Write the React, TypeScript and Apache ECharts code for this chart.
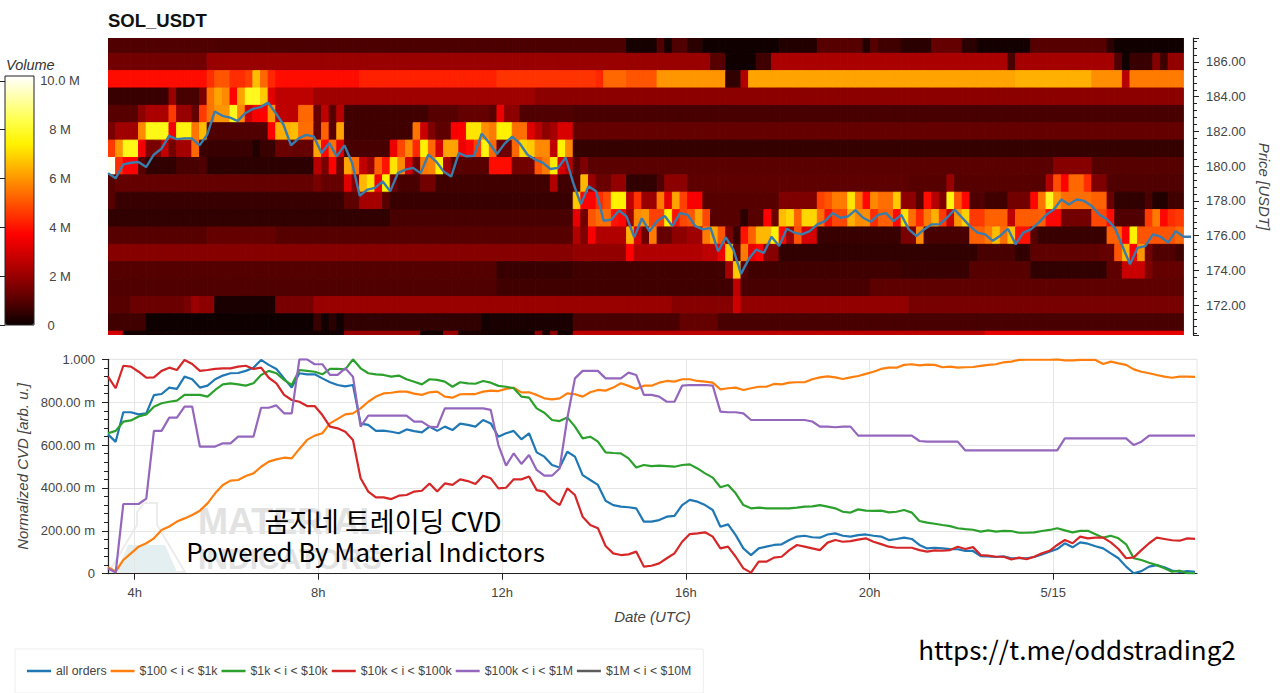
import React, { useEffect, useRef } from "react";
import * as echarts from "echarts";

type Run = [number, number];

const titleText = "SOL_USDT";
const firstHour = 3.42;
const lastHour = 27.13;
const cellHours = 1 / 6;
const hourTicks = [4, 8, 12, 16, 20, 24];
const columnCount = 141;

const row187: Run[] = [[14,0.9],[68,0.85],[72,0.15],[73,0.9],[74,0.15],[76,0.9],[78,0.4],[88,0.08],[93,0.3],[99,1.0],[100,0.3],[101,1.0],[104,0.7],[108,0.4],[112,1.2],[114,0.4],[121,0.12],[131,1.0],[132,0.4],[141,0.08]];
const row186: Run[] = [[13,1.4],[79,2.0],[81,1.0],[85,0.08],[87,0.7],[118,2.3],[119,0.8],[132,2.2],[133,0.9],[134,0.08],[137,0.6],[138,1.7],[139,0.7],[141,1.9]];
const row185: Run[] = [[13,3.9],[14,4.4],[16,5.0],[18,4.4],[19,4.7],[20,6.6],[21,5.3],[22,4.3],[33,3.9],[51,4.2],[64,4.5],[65,4.3],[68,5.3],[72,5.0],[81,6.0],[83,0.5],[84,2.4],[119,6.2],[129,6.4],[133,5.9],[134,2.5],[141,5.6]];
const row184: Run[] = [[8,0.6],[9,2.0],[12,0.8],[13,1.5],[14,5.5],[15,6.2],[16,5.8],[17,3.7],[18,6.2],[20,7.8],[21,6.8],[22,3.2],[27,2.6],[56,2.1],[141,1.8]];
const row183: Run[] = [[4,1.0],[5,1.8],[8,2.3],[9,4.6],[11,2.0],[12,1.2],[13,4.6],[14,5.5],[16,6.0],[17,7.8],[18,5.8],[19,2.8],[20,3.6],[21,3.7],[22,6.0],[25,2.6],[27,5.3],[28,1.2],[29,2.6],[30,1.0],[31,2.5],[42,0.7],[46,1.0],[50,1.2],[51,1.0],[52,3.4],[54,1.8],[61,0.9],[141,0.8]];
const row182: Run[] = [[1,1.5],[4,2.1],[5,5.8],[8,7.7],[9,3.5],[11,7.6],[12,5.5],[13,6.6],[21,0.9],[22,3.7],[24,6.4],[25,6.6],[27,5.4],[28,1.2],[29,5.2],[30,1.0],[31,6.2],[40,0.7],[41,5.5],[42,2.8],[43,1.6],[45,1.1],[46,3.6],[47,3.7],[49,7.2],[50,5.9],[51,5.6],[53,7.4],[55,5.4],[56,3.2],[57,2.5],[58,1.8],[59,2.2],[61,3.1],[141,1.2]];
const row181: Run[] = [[1,4.6],[2,6.0],[4,7.7],[5,3.5],[7,1.5],[8,2.7],[9,1.4],[11,2.2],[12,5.3],[19,0.6],[20,0.3],[22,0.6],[24,1.3],[27,1.2],[28,6.2],[29,3.8],[30,5.4],[31,3.2],[37,0.8],[38,3.4],[39,4.8],[40,5.8],[41,4.3],[42,7.4],[43,5.3],[44,3.0],[46,6.2],[47,3.4],[48,3.8],[49,4.7],[50,7.6],[51,5.3],[53,1.3],[54,5.3],[55,7.0],[56,6.8],[58,5.8],[59,2.6],[60,7.4],[61,5.8],[141,0.55]];
const row180: Run[] = [[1,10],[2,4.4],[4,3.7],[5,1.0],[9,0.5],[12,0.8],[13,0.9],[27,0.45],[28,2.5],[29,1.5],[30,3.7],[31,1.3],[32,6.2],[33,5.4],[34,2.7],[35,2.0],[36,5.2],[37,4.0],[38,7.2],[39,5.8],[40,3.0],[41,1.3],[42,5.6],[43,5.7],[44,7.4],[45,2.2],[50,1.0],[53,3.9],[56,1.4],[57,5.0],[58,5.6],[59,7.3],[60,3.0],[61,2.4],[62,1.0],[63,1.6],[124,1.05],[129,1.7],[141,1.0]];
const row179: Run[] = [[1,1.0],[27,1.2],[28,1.5],[31,1.2],[32,3.2],[33,1.7],[34,6.5],[35,7.2],[36,3.5],[37,7.4],[38,1.3],[41,0.8],[43,1.4],[58,0.7],[59,2.4],[61,0.7],[62,1.0],[63,6.5],[64,2.0],[66,1.3],[68,1.9],[72,0.5],[73,0.9],[76,1.8],[105,1.1],[110,1.0],[111,2.0],[123,1.0],[124,2.4],[125,4.9],[126,3.7],[128,5.3],[129,4.4],[131,1.6],[141,0.9]];
const row178: Run[] = [[1,1.0],[31,0.6],[33,1.1],[36,2.2],[37,1.0],[61,0.6],[62,6.8],[64,3.7],[65,4.4],[66,4.9],[68,7.4],[69,2.6],[70,4.5],[72,2.0],[73,5.6],[74,3.3],[75,6.2],[76,4.7],[78,3.6],[88,1.0],[93,1.6],[94,4.7],[95,5.0],[97,5.6],[98,7.2],[99,5.4],[100,3.8],[101,5.8],[103,5.4],[104,6.8],[106,1.8],[107,1.0],[108,3.9],[109,2.5],[110,1.6],[111,7.6],[112,5.0],[113,3.8],[115,0.9],[118,0.7],[121,1.4],[122,3.8],[123,5.5],[124,7.8],[125,6.0],[129,5.4],[131,5.2],[132,1.3],[136,0.5],[137,0.8],[139,0.3],[141,0.7]];
const row177: Run[] = [[37,0.5],[61,0.8],[62,3.3],[63,1.4],[64,5.0],[66,5.4],[67,4.0],[68,3.8],[69,2.0],[70,5.8],[71,6.0],[73,4.7],[74,7.4],[75,4.0],[76,4.8],[77,5.0],[78,6.2],[79,4.8],[83,1.0],[84,0.4],[86,1.0],[87,3.7],[88,1.3],[89,6.6],[90,7.0],[91,5.2],[93,7.0],[94,5.4],[95,4.0],[97,4.8],[98,6.4],[99,5.8],[100,5.9],[101,4.4],[103,5.2],[104,3.8],[105,7.2],[106,5.4],[107,4.3],[108,5.6],[109,6.4],[110,4.6],[111,2.8],[112,6.0],[113,6.9],[115,4.6],[118,5.2],[119,2.6],[122,5.1],[123,5.2],[125,3.8],[129,1.4],[131,4.8],[132,3.9],[136,0.9],[137,4.6],[138,5.6],[139,3.8],[140,4.4],[141,4.6]];
const row176: Run[] = [[13,1.0],[22,1.2],[61,1.0],[62,2.4],[63,1.6],[64,3.6],[68,2.4],[69,6.4],[70,3.0],[71,1.3],[72,5.6],[74,1.2],[76,1.8],[78,2.1],[79,5.6],[80,6.3],[81,5.0],[82,1.5],[83,0.6],[84,4.0],[85,5.2],[87,6.5],[88,7.5],[89,3.8],[90,2.0],[91,5.0],[93,3.0],[104,0.6],[106,1.5],[107,5.8],[113,0.8],[115,5.2],[116,5.6],[117,6.6],[118,5.4],[119,6.7],[121,4.0],[122,1.0],[131,0.6],[133,5.2],[134,3.7],[135,7.4],[136,5.0],[140,5.0],[141,5.3]];
const row175: Run[] = [[61,1.7],[68,1.9],[69,3.7],[78,2.4],[80,2.6],[81,3.4],[82,6.8],[83,1.2],[84,5.6],[85,3.3],[86,3.7],[88,1.7],[114,0.5],[119,0.8],[121,0.5],[130,1.1],[132,1.2],[133,5.0],[134,6.5],[135,3.6],[136,6.0],[137,1.4],[140,0.9],[141,0.7]];
const row174: Run[] = [[51,0.95],[61,0.6],[81,0.7],[82,2.2],[83,6.8],[84,1.0],[104,0.7],[113,0.6],[121,1.0],[131,0.5],[133,1.1],[136,2.8],[137,1.6],[141,1.2]];
const row173: Run[] = [[51,0.9],[82,0.7],[83,2.6],[100,0.8],[141,1.1]];
const row172: Run[] = [[3,1.0],[10,1.3],[11,1.5],[12,2.0],[14,1.8],[22,0.2],[27,1.5],[74,2.0],[82,1.7],[83,2.9],[105,1.9],[141,1.5]];
const row171: Run[] = [[5,0.7],[27,0.05],[28,0.6],[29,0.1],[30,0.4],[31,0.1],[49,0.5],[50,0.1],[61,0.2],[75,0.8],[80,1.2],[141,0.8]];
const row170: Run[] = [[2,3.0],[31,0.1],[41,2.0],[44,0.1],[46,2.0],[50,0.2],[56,0.1],[57,1.8],[58,0.2],[59,1.8],[61,0.1],[115,2.6],[141,3.3]];

const priceRows: [number, Run[]][] = [[187,row187],[186,row186],[185,row185],[184,row184],[183,row183],[182,row182],[181,row181],[180,row180],[179,row179],[178,row178],[177,row177],[176,row176],[175,row175],[174,row174],[173,row173],[172,row172],[171,row171],[170,row170]];

const priceLine = [179.6,179.3,180.1,180.2,180.24,179.95,180.66,181.0,181.75,181.56,181.6,181.6,181.2,181.8,183.15,182.9,182.8,182.6,183.05,183.3,183.4,183.66,183.05,182.4,181.2,181.6,181.8,181.7,180.76,181.33,180.57,181.2,180.2,178.3,178.65,178.75,179.13,178.55,179.6,179.8,179.9,179.6,180.66,180.28,179.7,179.4,180.76,180.57,180.6,181.87,181.33,180.7,181.3,181.7,181.3,180.66,180.38,180.2,179.84,179.9,180.5,179.04,177.8,178.85,178.55,176.85,176.93,177.45,177.1,175.9,177.0,176.25,176.85,177.13,176.55,177.3,177.2,176.55,176.36,176.45,175.1,175.9,175.2,173.8,174.65,175.2,175.0,175.94,175.4,176.4,176.17,176.07,176.26,176.65,176.84,177.3,177.03,177.1,177.47,177.03,176.8,177.2,177.3,176.84,177.2,176.36,175.98,176.36,176.65,176.65,177.03,177.5,177.03,176.55,176.17,176.07,175.7,176.0,176.4,175.5,176.17,176.36,176.74,177.2,177.5,178.08,177.8,178.08,178.0,177.7,177.2,176.93,176.45,175.4,174.35,175.3,175.4,176.07,175.94,175.6,176.26,175.94,175.94];

const allOrders = [0.65,0.615,0.753,0.753,0.743,0.748,0.833,0.838,0.868,0.862,0.919,0.907,0.868,0.877,0.907,0.924,0.935,0.936,0.946,0.961,0.997,0.974,0.955,0.911,0.868,0.935,0.93,0.93,0.911,0.893,0.88,0.874,0.88,0.7,0.694,0.666,0.667,0.662,0.655,0.673,0.665,0.659,0.686,0.666,0.686,0.67,0.7,0.694,0.686,0.717,0.701,0.639,0.655,0.666,0.627,0.655,0.566,0.546,0.507,0.495,0.569,0.546,0.46,0.437,0.414,0.34,0.32,0.313,0.31,0.305,0.243,0.243,0.25,0.266,0.27,0.32,0.344,0.336,0.32,0.297,0.219,0.23,0.18,0.118,0.087,0.118,0.126,0.134,0.137,0.157,0.173,0.177,0.17,0.168,0.183,0.188,0.177,0.173,0.18,0.183,0.177,0.173,0.157,0.162,0.168,0.162,0.134,0.118,0.121,0.118,0.115,0.114,0.106,0.106,0.082,0.081,0.078,0.081,0.072,0.072,0.072,0.078,0.09,0.103,0.115,0.142,0.123,0.146,0.14,0.128,0.118,0.095,0.072,0.033,0.002,0.012,0.033,0.04,0.03,0.015,0.008,0.012,0.009];
const band100 = [0.03,0.01,0.064,0.095,0.126,0.142,0.165,0.204,0.22,0.243,0.258,0.274,0.294,0.328,0.375,0.414,0.434,0.437,0.456,0.468,0.499,0.523,0.533,0.541,0.538,0.582,0.624,0.644,0.655,0.701,0.722,0.743,0.748,0.771,0.802,0.826,0.841,0.844,0.849,0.849,0.84,0.834,0.846,0.849,0.826,0.821,0.837,0.838,0.838,0.849,0.854,0.852,0.862,0.868,0.846,0.846,0.834,0.818,0.813,0.818,0.841,0.837,0.826,0.846,0.857,0.854,0.868,0.888,0.876,0.862,0.877,0.877,0.891,0.899,0.896,0.907,0.907,0.899,0.896,0.891,0.86,0.865,0.868,0.857,0.865,0.872,0.872,0.885,0.883,0.891,0.893,0.893,0.907,0.916,0.92,0.916,0.908,0.916,0.922,0.932,0.942,0.955,0.961,0.961,0.974,0.977,0.972,0.975,0.974,0.963,0.966,0.961,0.963,0.964,0.969,0.974,0.977,0.986,0.989,0.997,0.998,0.998,0.998,0.998,1.0,0.995,0.995,0.997,0.997,0.997,0.978,0.989,0.981,0.974,0.953,0.942,0.935,0.927,0.919,0.914,0.919,0.919,0.918];
const band1k = [0.655,0.666,0.709,0.715,0.733,0.743,0.779,0.795,0.802,0.807,0.834,0.834,0.834,0.826,0.857,0.883,0.888,0.883,0.877,0.888,0.927,0.946,0.935,0.904,0.88,0.95,0.946,0.942,0.93,0.955,0.955,0.953,1.0,0.958,0.935,0.93,0.927,0.919,0.924,0.907,0.895,0.883,0.907,0.904,0.896,0.872,0.893,0.888,0.886,0.899,0.891,0.876,0.872,0.865,0.826,0.821,0.771,0.751,0.717,0.712,0.729,0.686,0.631,0.639,0.616,0.566,0.563,0.561,0.538,0.495,0.507,0.502,0.504,0.502,0.499,0.507,0.51,0.491,0.468,0.448,0.403,0.414,0.375,0.32,0.305,0.308,0.305,0.305,0.305,0.305,0.308,0.313,0.314,0.32,0.313,0.305,0.289,0.285,0.3,0.294,0.293,0.294,0.286,0.289,0.297,0.285,0.246,0.238,0.233,0.227,0.222,0.212,0.208,0.205,0.196,0.202,0.196,0.2,0.199,0.191,0.191,0.193,0.199,0.204,0.212,0.202,0.193,0.2,0.2,0.184,0.168,0.177,0.165,0.137,0.072,0.064,0.051,0.04,0.025,0.009,0.014,0.002,0.002];
const band10k = [0.919,0.865,0.97,0.966,0.942,0.914,0.916,0.946,0.961,0.95,0.997,0.978,0.946,0.95,0.955,0.958,0.958,0.966,0.97,0.955,0.961,0.914,0.888,0.834,0.81,0.802,0.782,0.782,0.74,0.686,0.678,0.662,0.624,0.445,0.383,0.356,0.356,0.348,0.364,0.367,0.383,0.387,0.421,0.383,0.421,0.414,0.44,0.432,0.418,0.457,0.445,0.398,0.401,0.44,0.44,0.453,0.39,0.383,0.344,0.32,0.398,0.367,0.266,0.227,0.212,0.129,0.095,0.087,0.09,0.103,0.033,0.037,0.048,0.072,0.095,0.149,0.185,0.188,0.193,0.173,0.118,0.126,0.079,0.025,0.005,0.056,0.056,0.075,0.079,0.11,0.134,0.126,0.118,0.11,0.145,0.157,0.149,0.152,0.159,0.165,0.149,0.138,0.126,0.121,0.121,0.121,0.11,0.103,0.109,0.107,0.11,0.126,0.115,0.124,0.087,0.084,0.079,0.079,0.067,0.075,0.068,0.079,0.095,0.107,0.134,0.157,0.142,0.173,0.165,0.168,0.168,0.146,0.115,0.072,0.076,0.11,0.142,0.168,0.162,0.156,0.154,0.165,0.162];
const band100k = [0.025,0.005,0.325,0.325,0.325,0.35,0.666,0.666,0.728,0.728,0.779,0.779,0.593,0.593,0.593,0.608,0.608,0.639,0.639,0.639,0.774,0.774,0.785,0.748,0.748,1.0,1.0,0.977,0.977,0.927,0.927,0.958,0.919,0.686,0.737,0.737,0.737,0.737,0.737,0.737,0.709,0.709,0.686,0.683,0.771,0.771,0.771,0.771,0.771,0.771,0.764,0.6,0.504,0.561,0.512,0.554,0.484,0.457,0.457,0.491,0.725,0.911,0.946,0.946,0.946,0.911,0.911,0.911,0.938,0.927,0.834,0.834,0.826,0.802,0.802,0.877,0.88,0.88,0.88,0.877,0.756,0.753,0.753,0.748,0.717,0.717,0.717,0.717,0.717,0.717,0.717,0.717,0.71,0.686,0.686,0.683,0.686,0.686,0.644,0.644,0.644,0.644,0.644,0.644,0.644,0.644,0.619,0.616,0.616,0.616,0.616,0.616,0.575,0.575,0.575,0.575,0.575,0.575,0.575,0.575,0.575,0.575,0.575,0.575,0.575,0.631,0.631,0.631,0.631,0.631,0.631,0.631,0.631,0.631,0.6,0.616,0.644,0.644,0.644,0.644,0.644,0.644,0.644];
const band1M: number[] = [];

const lineNames = ["all orders", "$100 < i < $1k", "$1k < i < $10k", "$10k < i < $100k", "$100k < i < $1M", "$1M < i < $10M"];
const lineValues = [allOrders, band100, band1k, band10k, band100k, band1M];
const lineColors = ["#1f77b4", "#ff7f0e", "#2ca02c", "#d62728", "#9467bd", "#5c5c5c"];

const hotColors = ["#0b0000","#520000","#900000","#c80000","#ff0000","#ff3c00","#ff7900","#ffb600","#fff300","#ffff49","#ffffa4","#ffffff"];

const SANS = '"Liberation Sans", Arial, sans-serif';
const CJK = '"Noto Sans CJK KR", "Noto Sans", sans-serif';
const INK = "#444444";

const expand = (runs: Run[]) => {
  const out: number[] = [];
  runs.forEach(([end, v]) => {
    while (out.length < end && out.length < columnCount) out.push(v);
  });
  return out;
};

const withHours = (values: number[]) => values.map((v, i) => [firstHour + i * cellHours, v]);

const cells: number[][] = [];
priceRows.forEach(([price, runs]) => {
  expand(runs).forEach((v, c) => cells.push([firstHour + c * cellHours, price, v]));
});

export default function App() {
  const ref = useRef<HTMLDivElement>(null);
  useEffect(() => {
    document.body.style.margin = "0";
    document.body.style.overflow = "hidden";
    const chart = echarts.init(ref.current!, undefined, { renderer: "svg" });
    const axisLine = { show: true, lineStyle: { color: "#222222", width: 1.2 } };
    const tickStyle = { color: "#222222", width: 1 };
    const nameStyle = { fontStyle: "italic", fontSize: 15, color: INK, fontFamily: SANS };
    chart.setOption({
      animation: false,
      backgroundColor: "#ffffff",
      textStyle: { fontFamily: SANS },
      title: {
        text: titleText,
        left: 108,
        top: 11,
        padding: 0,
        textStyle: { fontFamily: SANS, fontSize: 18.5, fontWeight: "bold", color: "#111111" },
      },
      legend: {
        data: lineNames,
        left: 15,
        top: 649,
        padding: [16, 12, 16, 12],
        borderColor: "#eeeeee",
        borderWidth: 1,
        itemWidth: 24,
        itemHeight: 2.5,
        itemGap: 4,
        icon: "rect",
        selectedMode: false,
        textStyle: { fontFamily: SANS, fontSize: 12.3, color: INK },
      },
      grid: [
        { left: 108, top: 38, width: 1089, height: 297 },
        { left: 108, top: 359.3, width: 1089, height: 214.4, show: true, borderColor: "#e6e6e6", borderWidth: 1 },
        { left: 5, top: 76, width: 29, height: 249 },
      ],
      xAxis: [
        { type: "value", gridIndex: 0, min: firstHour, max: lastHour, show: false },
        {
          type: "value",
          gridIndex: 1,
          min: firstHour,
          max: lastHour,
          name: "Date (UTC)",
          nameLocation: "middle",
          nameGap: 35,
          nameTextStyle: nameStyle,
          axisLine,
          axisTick: { show: true, length: 6, lineStyle: tickStyle, customValues: hourTicks },
          axisLabel: {
            color: INK,
            fontSize: 13,
            margin: 12,
            fontFamily: SANS,
            customValues: hourTicks,
            formatter: (v: number) => (v === 24 ? "5/15" : `${v}h`),
          },
          splitLine: { show: true, lineStyle: { color: "#e6e6e6", width: 1 } },
        },
        { type: "value", gridIndex: 2, min: 0, max: 1, show: false },
      ],
      yAxis: [
        {
          type: "value",
          gridIndex: 0,
          position: "right",
          min: 170.28,
          max: 187.38,
          splitNumber: 8,
          name: "Price [USDT]",
          nameLocation: "middle",
          nameRotate: -90,
          nameGap: 64,
          nameTextStyle: nameStyle,
          axisLine,
          axisTick: { show: true, length: 6, lineStyle: tickStyle },
          minorTick: { show: true, splitNumber: 5, length: 4, lineStyle: tickStyle },
          axisLabel: {
            color: INK,
            fontSize: 13,
            margin: 13,
            fontFamily: SANS,
            showMinLabel: false,
            showMaxLabel: false,
            formatter: (v: number) => v.toFixed(2),
          },
          splitLine: { show: false },
        },
        {
          type: "value",
          gridIndex: 1,
          min: 0,
          max: 1,
          interval: 0.2,
          name: "Normalized CVD [arb. u.]",
          nameLocation: "middle",
          nameGap: 72,
          nameTextStyle: nameStyle,
          axisLine,
          axisTick: { show: true, length: 6, lineStyle: tickStyle },
          minorTick: { show: true, splitNumber: 5, length: 4, lineStyle: tickStyle },
          axisLabel: {
            color: INK,
            fontSize: 13,
            margin: 13,
            fontFamily: SANS,
            formatter: (v: number) => (v === 0 ? "0" : v === 1 ? "1.000" : `${(v * 1000).toFixed(2)} m`),
          },
          splitLine: { show: true, lineStyle: { color: "#e6e6e6", width: 1 } },
        },
        {
          type: "value",
          gridIndex: 2,
          position: "right",
          min: 0,
          max: 10.2,
          interval: 2,
          axisLine: { show: false },
          axisTick: { show: true, inside: true, length: 6, lineStyle: { color: "#222222" } },
          axisLabel: {
            color: INK,
            fontSize: 13,
            margin: 26,
            align: "center",
            fontFamily: SANS,
            showMaxLabel: false,
            formatter: (v: number) => (v === 0 ? "{z|0}" : v === 10 ? "10.0 M" : `${v} M`),
            rich: { z: { padding: [0, 18, 0, 0], fontSize: 13, color: INK, fontFamily: SANS } },
          },
          splitLine: { show: false },
        },
      ],
      visualMap: {
        type: "continuous",
        seriesIndex: 0,
        dimension: 2,
        min: 0,
        max: 10.2,
        left: 5,
        top: 76,
        itemWidth: 29,
        itemHeight: 249,
        padding: 0,
        calculable: false,
        hoverLink: false,
        text: ["", ""],
        showLabel: false,
        inRange: { color: hotColors },
        textStyle: { color: "transparent", fontSize: 1 },
      },
      graphic: [
        {
          type: "rect",
          silent: true,
          z: 50,
          shape: { x: 5, y: 76, width: 29, height: 249 },
          style: { fill: "transparent", stroke: "#222222", lineWidth: 1 },
        },
        {
          type: "polyline",
          silent: true,
          z: 0,
          shape: { points: [[144, 503], [157, 503], [157, 525], [185, 572], [109, 572], [137, 525], [137, 512], [144, 503]] },
          style: { stroke: "#ececec", lineWidth: 2, fill: "transparent" },
        },
        {
          type: "polygon",
          silent: true,
          z: 0,
          shape: { points: [[128, 545], [165, 545], [177, 572], [117, 572]] },
          style: { fill: "#e3eff0" },
        },
        {
          type: "text",
          silent: true,
          z: 0,
          x: 198,
          y: 521,
          style: { text: "MATERIAL", font: `bold 36px ${SANS}`, fill: "#e2e2e2", textAlign: "left", textVerticalAlign: "middle" },
        },
        {
          type: "text",
          silent: true,
          z: 0,
          x: 198,
          y: 558,
          style: { text: "INDICATORS", font: `bold 30px ${SANS}`, fill: "#e2e2e2", textAlign: "left", textVerticalAlign: "middle" },
        },
        {
          type: "text",
          silent: true,
          z: 100,
          x: 6,
          y: 65,
          style: { text: "Volume", font: `italic 14.5px ${SANS}`, fill: "#333333", textAlign: "left", textVerticalAlign: "middle" },
        },
        {
          type: "text",
          silent: true,
          z: 100,
          x: 383,
          y: 520,
          style: { text: "곰지네 트레이딩 CVD", font: `27px ${CJK}`, fill: "#000000", textAlign: "center", textVerticalAlign: "middle" },
        },
        {
          type: "text",
          silent: true,
          z: 100,
          x: 365.5,
          y: 550,
          style: { text: "Powered By Material Indictors", font: `25.9px ${CJK}`, fill: "#000000", textAlign: "center", textVerticalAlign: "middle" },
        },
        {
          type: "text",
          silent: true,
          z: 100,
          x: 1077,
          y: 648,
          style: { text: "https://t.me/oddstrading2", font: `26px ${CJK}`, fill: "#000000", textAlign: "center", textVerticalAlign: "middle" },
        },
      ],
      series: [
        {
          type: "custom",
          name: "Volume",
          xAxisIndex: 0,
          yAxisIndex: 0,
          clip: true,
          silent: true,
          encode: { x: 0, y: 1 },
          data: cells,
          renderItem: (_params: any, api: any) => {
            const t = api.value(0);
            const p = api.value(1);
            const a = api.coord([t, p + 0.5]);
            const b = api.coord([t + cellHours, p - 0.5]);
            const color = api.visual("color");
            return {
              type: "rect",
              shape: { x: a[0], y: a[1], width: b[0] - a[0], height: b[1] - a[1] },
              style: { fill: color, stroke: color, lineWidth: 1 },
            };
          },
        },
        {
          type: "line",
          name: "Price",
          xAxisIndex: 0,
          yAxisIndex: 0,
          showSymbol: false,
          symbol: "none",
          z: 5,
          lineStyle: { color: "#3a7cab", width: 2.4 },
          data: withHours(priceLine),
        },
        ...lineNames.map((name, i) => ({
          type: "line",
          name,
          xAxisIndex: 1,
          yAxisIndex: 1,
          showSymbol: false,
          symbol: "none",
          itemStyle: { color: lineColors[i] },
          lineStyle: { color: lineColors[i], width: 2.2 },
          data: withHours(lineValues[i]),
        })),
        {
          type: "line",
          name: "colorbar",
          xAxisIndex: 2,
          yAxisIndex: 2,
          symbol: "none",
          data: [],
        },
      ],
    });
    return () => chart.dispose();
  }, []);
  return <div ref={ref} style={{ position: "absolute", left: 0, top: 0, width: 1280, height: 693 }} />;
}
